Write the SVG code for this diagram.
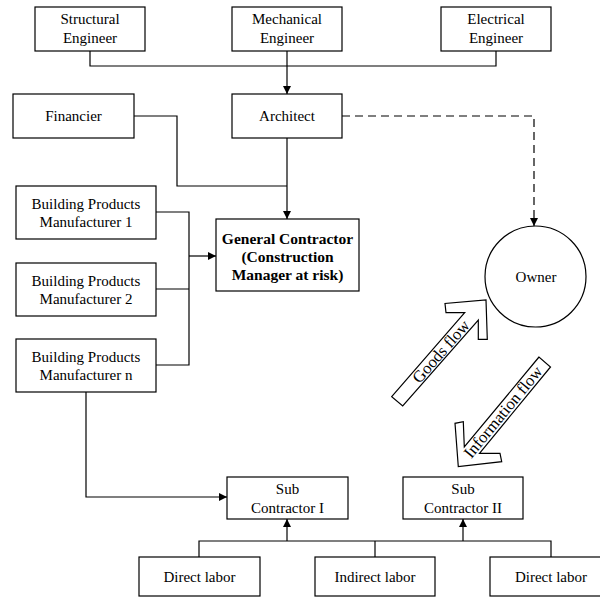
<svg xmlns="http://www.w3.org/2000/svg" width="600" height="598" viewBox="0 0 600 598">
  <style>
    .box { fill: #fff; stroke: #000; stroke-width: 1.2; }
    .lbl { font-family: "Liberation Serif", "Times New Roman", serif; font-size: 15px; fill: #000; text-anchor: middle; }
    .bold { font-weight: bold; font-size: 15.5px; }
    .flow { font-family: "Liberation Serif", "Times New Roman", serif; font-size: 16.5px; fill: #000; text-anchor: middle; dominant-baseline: central; }
    .wire { fill: none; stroke: #000; stroke-width: 1.2; }
    .dash { fill: none; stroke: #000; stroke-width: 1.2; stroke-dasharray: 8 5; }
    .big { fill: #fff; stroke: #000; stroke-width: 1.2; stroke-linejoin: miter; }
  </style>
  <defs>
    <marker id="arrow" markerUnits="userSpaceOnUse" viewBox="0 0 8 8" refX="8" refY="4" markerWidth="8" markerHeight="8" orient="auto">
      <path d="M0,0 L8,4 L0,8 Z" fill="#000"/>
    </marker>
  </defs>
  <rect width="600" height="598" fill="#fff"/>

  <!-- connectors -->
  <g id="connectors">
    <!-- engineers to architect -->
    <polyline class="wire" points="90,51 90,66 496,66 496,51"/>
    <line class="wire" x1="287" y1="51" x2="287" y2="94" marker-end="url(#arrow)"/>
    <!-- financier and architect to general contractor -->
    <polyline class="wire" points="134,116 177,116 177,186 287,186"/>
    <line class="wire" x1="287" y1="138" x2="287" y2="219" marker-end="url(#arrow)"/>
    <!-- manufacturers to general contractor -->
    <polyline class="wire" points="156,212 189,212 189,365 156,365"/>
    <line class="wire" x1="156" y1="289" x2="189" y2="289"/>
    <line class="wire" x1="189" y1="256" x2="216" y2="256" marker-end="url(#arrow)"/>
    <!-- architect to owner -->
    <polyline class="dash" points="342,116 534,116 534,226" marker-end="url(#arrow)"/>
    <!-- manufacturer n to sub contractor I -->
    <polyline class="wire" points="86,392 86,497 227,497" marker-end="url(#arrow)"/>
    <!-- labor to sub contractors -->
    <polyline class="wire" points="199,557 199,541 551,541 551,557"/>
    <line class="wire" x1="375" y1="541" x2="375" y2="557"/>
    <line class="wire" x1="287" y1="541" x2="287" y2="519" marker-end="url(#arrow)"/>
    <line class="wire" x1="463" y1="541" x2="463" y2="519" marker-end="url(#arrow)"/>
  </g>

  <g id="structural-engineer">
    <rect class="box" x="35" y="7" width="110" height="44"/>
    <text class="lbl" x="90" y="24">Structural</text>
    <text class="lbl" x="90" y="43">Engineer</text>
  </g>
  <g id="mechanical-engineer">
    <rect class="box" x="232" y="7" width="110" height="44"/>
    <text class="lbl" x="287" y="24">Mechanical</text>
    <text class="lbl" x="287" y="43">Engineer</text>
  </g>
  <g id="electrical-engineer">
    <rect class="box" x="441" y="7" width="110" height="44"/>
    <text class="lbl" x="496" y="24">Electrical</text>
    <text class="lbl" x="496" y="43">Engineer</text>
  </g>
  <g id="financier">
    <rect class="box" x="13" y="94" width="121" height="44"/>
    <text class="lbl" x="73.5" y="121">Financier</text>
  </g>
  <g id="architect">
    <rect class="box" x="232" y="94" width="110" height="44"/>
    <text class="lbl" x="287" y="121">Architect</text>
  </g>
  <g id="manufacturer-1">
    <rect class="box" x="16" y="186" width="140" height="53"/>
    <text class="lbl" x="86" y="209">Building Products</text>
    <text class="lbl" x="86" y="227">Manufacturer 1</text>
  </g>
  <g id="manufacturer-2">
    <rect class="box" x="16" y="263" width="140" height="53"/>
    <text class="lbl" x="86" y="285.5">Building Products</text>
    <text class="lbl" x="86" y="303.5">Manufacturer 2</text>
  </g>
  <g id="manufacturer-n">
    <rect class="box" x="16" y="339" width="140" height="53"/>
    <text class="lbl" x="86" y="361.5">Building Products</text>
    <text class="lbl" x="86" y="379.5">Manufacturer n</text>
  </g>
  <g id="general-contractor">
    <rect class="box" x="216" y="219" width="143" height="72"/>
    <text class="lbl bold" x="287.5" y="244">General Contractor</text>
    <text class="lbl bold" x="287.5" y="262">(Construction</text>
    <text class="lbl bold" x="287.5" y="280">Manager at risk)</text>
  </g>
  <g id="owner">
    <circle class="box" cx="535.5" cy="276.5" r="50.5"/>
    <text class="lbl" x="536" y="282">Owner</text>
  </g>

  <!-- flow arrows -->
  <g id="goods-flow">
    <polygon class="big" points="391.7,396.7 464.7,312.7 446,312.7 445,303.5 486,300 487.3,339.3 478.3,339.3 478.3,320 402.7,406"/>
    <text class="flow" transform="translate(441,351.5) rotate(-48.8)">Goods flow</text>
  </g>
  <g id="information-flow">
    <polygon class="big" points="539,357 464.3,447 463.3,421.7 455,423.3 458.3,466.7 501.7,461.7 500,453.3 479.5,453.3 550.5,367"/>
    <text class="flow" transform="translate(503,412) rotate(-50.5)">Information flow</text>
  </g>

  <g id="sub-contractor-1">
    <rect class="box" x="227" y="477" width="121" height="42"/>
    <text class="lbl" x="287.5" y="494">Sub</text>
    <text class="lbl" x="287.5" y="513">Contractor I</text>
  </g>
  <g id="sub-contractor-2">
    <rect class="box" x="403" y="477" width="120" height="42"/>
    <text class="lbl" x="463" y="494">Sub</text>
    <text class="lbl" x="463" y="513">Contractor II</text>
  </g>
  <g id="direct-labor-1">
    <rect class="box" x="139" y="557" width="121" height="39"/>
    <text class="lbl" x="199.5" y="582">Direct labor</text>
  </g>
  <g id="indirect-labor">
    <rect class="box" x="315" y="557" width="120" height="39"/>
    <text class="lbl" x="375" y="582">Indirect labor</text>
  </g>
  <g id="direct-labor-2">
    <rect class="box" x="490" y="557" width="122" height="39"/>
    <text class="lbl" x="551" y="582">Direct labor</text>
  </g>
</svg>
